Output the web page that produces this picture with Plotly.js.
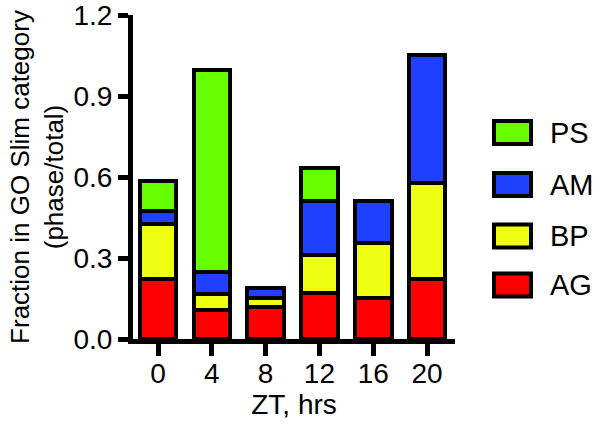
<!DOCTYPE html>
<html>
<head>
<meta charset="utf-8">
<script src="https://cdn.plot.ly/plotly-3.0.1.min.js"></script>
<style>
  body { margin: 0; background: #fff; }
  #chart { width: 600px; height: 427px; }
</style>
</head>
<body>
<div id="chart"></div>
<script>
// ZT time points (hrs)
var zt = ["0", "4", "8", "12", "16", "20"]

// fraction in GO Slim category, stacked bottom to top
var ag = [0.223, 0.106, 0.117, 0.172, 0.151, 0.221]
var bp = [0.204, 0.061, 0.035, 0.139, 0.203, 0.355]
var am = [0.046, 0.080, 0.038, 0.199, 0.156, 0.476]
var ps = [0.114, 0.750, null, 0.123, null, null]

var names = ["AG", "BP", "AM", "PS"]
var colors = ["#ff0000", "#eeff11", "#2040ff", "#66ff00"]
var series = [ag, bp, am, ps]

var font = "Liberation Sans, Arial, sans-serif"

var data = []
for (let i = 0; i < series.length; i++) {
    data.push({
        type: "bar",
        x: zt,
        y: series[i],
        name: names[i],
        width: 0.68,
        marker: {color: colors[i], line: {color: "#000", width: 4}},
        showlegend: false
    })
}

// plot area in pixels, used for the hand made legend
var L = 133, R = 455, T = 15, B = 339

function px(x) { return (x - L) / (R - L) }
function py(y) { return (B - y) / (B - T) }

var shapes = []
var annotations = []
// legend: PS on top, AG at the bottom
var legendY = [132.5, 184.5, 236, 285]
for (let k = 0; k < 4; k++) {
    let i = 3 - k
    let cy = legendY[k]
    shapes.push({
        type: "rect", xref: "paper", yref: "paper",
        x0: px(494), x1: px(531), y0: py(cy + 11.5), y1: py(cy - 11.5),
        fillcolor: colors[i], line: {color: "#000", width: 4}
    })
    annotations.push({
        xref: "paper", yref: "paper", x: px(548), y: py(cy),
        xanchor: "left", yanchor: "middle", showarrow: false,
        text: names[i], font: {family: font, size: 29, color: "#000"}
    })
}

var layout = {
    width: 600,
    height: 427,
    margin: {l: L, r: 600 - R, t: T, b: 427 - B},
    paper_bgcolor: "#fff",
    plot_bgcolor: "#fff",
    barmode: "stack",
    font: {family: font, size: 28, color: "#000"},
    xaxis: {
        type: "category",
        range: [-0.465, 5.52],
        showline: true, linecolor: "#000", linewidth: 5,
        ticks: "outside", ticklen: 12, tickwidth: 5, tickcolor: "#000",
        ticklabelstandoff: -7,
        showgrid: false, zeroline: false,
        tickfont: {family: font, size: 28},
        title: {text: "ZT, hrs", font: {family: font, size: 28}, standoff: 1}
    },
    yaxis: {
        range: [0, 1.2],
        tickvals: [0, 0.3, 0.6, 0.9, 1.2],
        tickformat: ".1f",
        ticklabeloverflow: "allow",
        showline: true, linecolor: "#000", linewidth: 5,
        ticks: "outside", ticklen: 10, tickwidth: 5, tickcolor: "#000",
        showgrid: false, zeroline: false,
        tickfont: {family: font, size: 28},
        title: {text: "Fraction in GO Slim category<br>(phase/total)", font: {family: font, size: 26}, standoff: 4}
    },
    shapes: shapes,
    annotations: annotations
}

Plotly.newPlot("chart", data, layout, {staticPlot: true})
</script>
</body>
</html>
